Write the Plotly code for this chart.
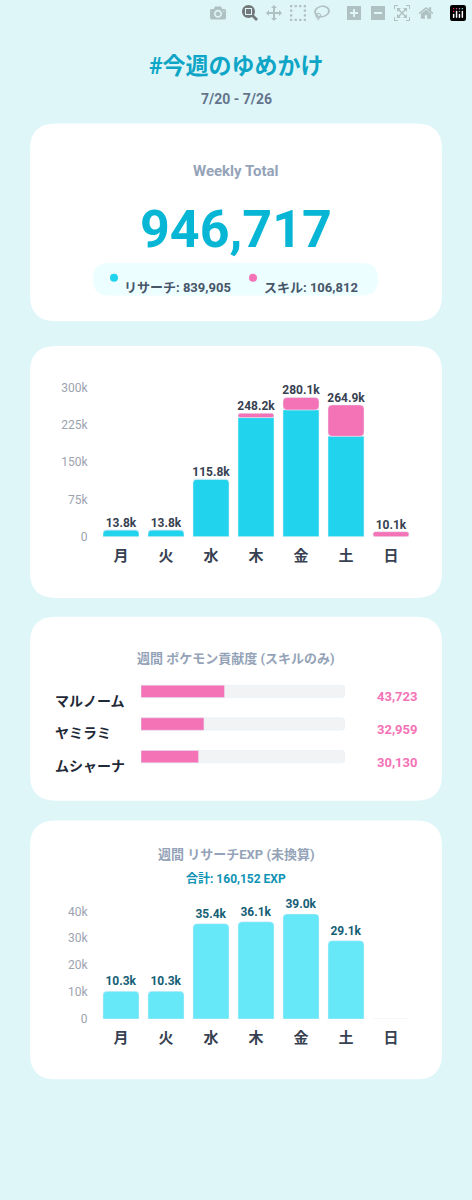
import plotly.graph_objects as go

W, H = 472, 1200
days = ["月", "火", "水", "木", "金", "土", "日"]
research = [13800, 13800, 115800, 239500, 255000, 202000, 0]
skill = [0, 0, 0, 8700, 25100, 62900, 10100]
total_labels = ["13.8k", "13.8k", "115.8k", "248.2k", "280.1k", "264.9k", "10.1k"]
pokemon = ["マルノーム", "ヤミラミ", "ムシャーナ"]
poke_vals = [43723, 32959, 30130]
skill_total = 106812
research_total = 839905
weekly_total = 946717
exp_vals = [10300, 10300, 35400, 36100, 39000, 29100, 0]
exp_labels = ["10.3k", "10.3k", "35.4k", "36.1k", "39.0k", "29.1k", ""]
exp_total = 160152

FONT = "Roboto, Noto Sans CJK JP, sans-serif"
CYAN = "#22d3ee"; PINK = "#f472b6"; LCYAN = "#67e8f9"

def px(x): return x / W
def py(y): return 1 - y / H
def rrect(x0, y0, x1, y1, r, fill):
    X0, X1, Y0, Y1 = px(x0), px(x1), py(y0), py(y1)
    rx, ry = r / W, r / H
    p = (f"M{X0+rx},{Y0} L{X1-rx},{Y0} Q{X1},{Y0} {X1},{Y0-ry} L{X1},{Y1+ry} Q{X1},{Y1} {X1-rx},{Y1} "
         f"L{X0+rx},{Y1} Q{X0},{Y1} {X0},{Y1+ry} L{X0},{Y0-ry} Q{X0},{Y0} {X0+rx},{Y0} Z")
    return dict(type="path", path=p, xref="paper", yref="paper", fillcolor=fill, line_width=0, layer="below")

fig = go.Figure()
# chart 1
fig.add_trace(go.Bar(x=days, y=research, marker_color=CYAN, xaxis="x", yaxis="y", width=0.8))
fig.add_trace(go.Bar(x=days, y=skill, base=research, marker_color=PINK, xaxis="x", yaxis="y", width=0.8))
tot = [r + s for r, s in zip(research, skill)]
fig.add_trace(go.Scatter(x=days, y=tot, mode="text", text=total_labels, textposition="top center",
                         textfont=dict(size=12, color="#374151", family=FONT, weight="bold"),
                         xaxis="x", yaxis="y", cliponaxis=False))
# chart 2
fig.add_trace(go.Bar(y=pokemon, x=[skill_total]*3, orientation="h", marker_color="#f1f3f5",
                     xaxis="x2", yaxis="y2", width=0.38))
fig.add_trace(go.Bar(y=pokemon, x=poke_vals, orientation="h", marker_color=PINK,
                     xaxis="x2", yaxis="y2", width=0.38))
# chart 3
fig.add_trace(go.Bar(x=days, y=exp_vals, marker_color=LCYAN, xaxis="x3", yaxis="y3", width=0.8,
                     text=exp_labels, textposition="outside", cliponaxis=False,
                     textfont=dict(size=12, color="#155e75", family=FONT, weight="bold")))

shapes = [rrect(30, 118, 442, 318, 26, "white"), rrect(30, 343, 442, 598, 26, "white"),
          rrect(30, 617, 442, 803, 26, "white"), rrect(30, 823, 442, 1085, 26, "white"),
          rrect(93, 259, 378, 292, 16, "#ecfeff")]
shapes += [dict(type="circle", xref="paper", yref="paper", x0=px(110), x1=px(118), y0=py(270), y1=py(278),
                fillcolor=CYAN, line_width=0),
           dict(type="circle", xref="paper", yref="paper", x0=px(249), x1=px(257), y0=py(270), y1=py(278),
                fillcolor=PINK, line_width=0)]

ann = []
def txt(x, y, t, size, color, bold=True, xanchor="center"):
    ann.append(dict(x=px(x), y=py(y), xref="paper", yref="paper", text=t, showarrow=False,
                    xanchor=xanchor, yanchor="middle",
                    font=dict(size=size, color=color, family=FONT, weight="bold" if bold else "normal")))
txt(236, 60, "#今週のゆめかけ", 23, "#0ea5c6")
txt(236, 93, "7/20 - 7/26", 14, "#64748b")
txt(236, 166, "Weekly Total", 15, "#94a3b8")
txt(236, 225, f"{weekly_total:,}", 52, "#06b6d4")
txt(122, 284, f"リサーチ: {research_total:,}", 13, "#475569", xanchor="left")
txt(262, 284, f"スキル: {skill_total:,}", 13, "#475569", xanchor="left")
txt(236, 659, "週間 ポケモン貢献度 (スキルのみ)", 13, "#94a3b8")
for i, (n, v) in enumerate(zip(pokemon, poke_vals)):
    txt(53, 702 + 33 * i, n, 14, "#1f2937", xanchor="left")
    txt(420, 698 + 33 * i, f"{v:,}", 13, PINK, xanchor="right")
txt(236, 858, "週間 リサーチEXP (未換算)", 13, "#94a3b8")
txt(236, 882, f"合計: {exp_total:,} EXP", 12, "#0e93b5")

xax = dict(showgrid=False, zeroline=False, showline=False, ticks="", ticklabelstandoff=8,
           tickfont=dict(size=15, color="#374151", family=FONT, weight="bold"))
fig.update_layout(
    width=W, height=H, margin=dict(l=0, r=0, t=0, b=0), paper_bgcolor="#dff6f9", plot_bgcolor="rgba(0,0,0,0)",
    showlegend=False, barmode="overlay", shapes=shapes, annotations=ann,
    xaxis=dict(domain=[px(98.5), px(413.5)], anchor="y", **xax),
    yaxis=dict(domain=[py(536), py(385)], range=[0, 300000], tickvals=[0, 75000, 150000, 225000, 300000],
               ticktext=["0", "75k", "150k", "225k", "300k"], showgrid=False, zeroline=False,
               tickfont=dict(size=12, color="#9ca3af", family=FONT), ticklabelstandoff=10),
    xaxis2=dict(domain=[px(141), px(345)], anchor="y2", range=[0, skill_total], visible=False),
    yaxis2=dict(domain=[py(775), py(676)], anchor="x2", autorange="reversed", visible=False),
    xaxis3=dict(domain=[px(98.5), px(413.5)], anchor="y3", **xax),
    yaxis3=dict(domain=[py(1024), py(915)], anchor="x3", range=[0, 40000], tickvals=[0, 10000, 20000, 30000, 40000],
                ticktext=["0", "10k", "20k", "30k", "40k"], showgrid=False, zeroline=False,
                tickfont=dict(size=12, color="#9ca3af", family=FONT), ticklabelstandoff=10),
    barcornerradius=4,
)
fig.write_html("out.html", post_script="document.body.style.margin='0';document.body.style.overflow='hidden';")
